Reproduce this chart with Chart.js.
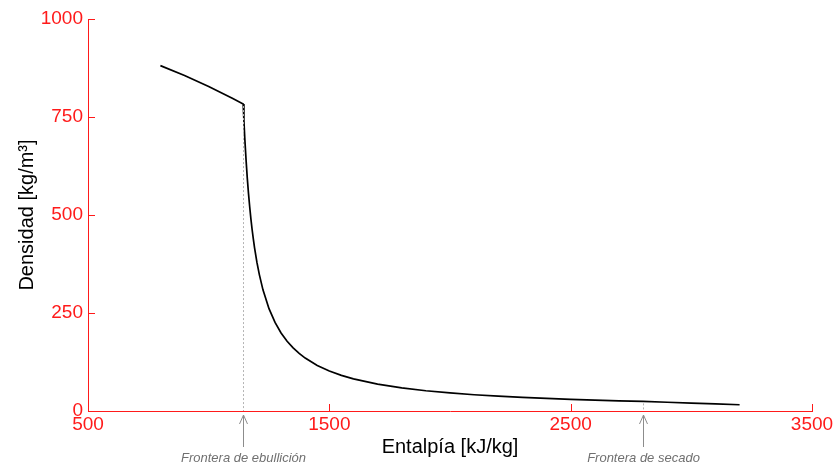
<!DOCTYPE html>
<html>
<head>
<meta charset="utf-8">
<script src="https://cdn.jsdelivr.net/npm/chart.js@4/dist/chart.umd.min.js"></script>
<style>
  html, body { margin: 0; padding: 0; background: #fff; }
  #grafica { display: block; }
</style>
</head>
<body>
<canvas id="grafica" width="839" height="466"></canvas>
<script>
// Densidad del agua frente a la entalpía (líquido, mezcla y vapor)
const entalpia = [800, 900, 1000, 1100, 1143, 1146, 1150, 1155, 1160, 1165,
                  1170, 1175, 1180, 1185, 1190, 1200, 1210, 1225, 1250, 1275,
                  1300, 1325, 1350, 1375, 1400, 1450, 1500, 1550, 1600, 1700,
                  1800, 1900, 2000, 2100, 2200, 2300, 2400, 2500, 2600, 2700,
                  2800, 2900, 3000, 3100, 3200]
const densidad = [881, 856, 828, 797, 783, 741, 692, 640, 594, 555,
                  521, 490, 463, 439, 417, 379, 348, 309, 261, 226,
                  199, 178, 161, 147, 135, 116, 102, 91, 82, 68.6,
                  59, 51.7, 46, 41.5, 37.8, 34.6, 32, 29.7, 27.8, 26,
                  24.5, 22.3, 20.2, 18, 16]

const ticksX = [500, 1500, 2500, 3500]
const ticksY = [0, 250, 500, 750, 1000]

// Fronteras marcadas bajo el eje x
const fronteraNombres = ['Frontera de ebullición', 'Frontera de secado']
const fronteraEntalpia = [1143, 2800]
const fronteraDensidad = [783, 24.5]

const rojo = '#ff1a1a'
Chart.defaults.font.family = "'Liberation Sans', Arial, sans-serif"

const puntos = entalpia.map((h, i) => ({ x: h, y: densidad[i] }))

// marcas de graduación hacia dentro, líneas punteadas y flechas
const anotaciones = {
    id: 'anotaciones',
    afterDraw(chart) {
        const ctx = chart.ctx
        const sx = chart.scales.x
        const sy = chart.scales.y
        const base = sy.getPixelForValue(0)
        const izq = sx.getPixelForValue(500)

        ctx.save()
        ctx.strokeStyle = rojo
        ctx.lineWidth = 1
        ctx.beginPath()
        ticksX.slice(1).forEach(v => {
            const px = Math.round(sx.getPixelForValue(v)) + 0.5
            ctx.moveTo(px, base)
            ctx.lineTo(px, base - 7)
        })
        ticksY.slice(1).forEach(v => {
            const py = Math.round(sy.getPixelForValue(v)) + 0.5
            ctx.moveTo(izq, py)
            ctx.lineTo(izq + 7, py)
        })
        ctx.stroke()

        fronteraEntalpia.forEach((h, i) => {
            const px = Math.round(sx.getPixelForValue(h)) + 0.5
            const py = sy.getPixelForValue(fronteraDensidad[i])

            // línea punteada desde la curva hasta el eje
            ctx.strokeStyle = '#b4b4b4'
            ctx.setLineDash([2, 2])
            ctx.beginPath()
            ctx.moveTo(px, py + 2)
            ctx.lineTo(px, base)
            ctx.stroke()
            ctx.setLineDash([])

            // flecha
            const punta = base + 4
            ctx.strokeStyle = '#8c8c8c'
            ctx.beginPath()
            ctx.moveTo(px, punta)
            ctx.lineTo(px, punta + 32)
            ctx.moveTo(px - 4, punta + 9)
            ctx.lineTo(px, punta)
            ctx.lineTo(px + 4, punta + 9)
            ctx.stroke()

            ctx.fillStyle = '#707070'
            ctx.font = "italic 13px 'Liberation Sans', Arial, sans-serif"
            ctx.textAlign = 'center'
            ctx.textBaseline = 'middle'
            ctx.fillText(fronteraNombres[i], px, punta + 43)
        })
        ctx.restore()
    }
}

new Chart(document.getElementById('grafica'), {
    type: 'line',
    data: {
        datasets: [{
            data: puntos,
            borderColor: '#000',
            borderWidth: 1.7,
            pointRadius: 0,
            tension: 0,
            fill: false
        }]
    },
    options: {
        responsive: false,
        animation: false,
        devicePixelRatio: 1,
        layout: { padding: { left: 0, top: 19, right: 27, bottom: 0 } },
        plugins: { legend: { display: false }, tooltip: { enabled: false } },
        scales: {
            x: {
                type: 'linear',
                min: 500,
                max: 3500,
                afterFit: s => { s.height = 55 },
                afterBuildTicks: s => { s.ticks = ticksX.map(v => ({ value: v })) },
                grid: { display: false, drawTicks: false },
                border: { display: true, color: rojo, width: 1 },
                ticks: { color: rojo, font: { size: 19 }, padding: 2, maxRotation: 0,
                         callback: v => String(v) },
                title: {
                    display: true,
                    text: 'Entalpía [kJ/kg]',
                    color: '#000',
                    font: { size: 20 },
                    padding: { top: 0, bottom: 7 }
                }
            },
            y: {
                type: 'linear',
                min: 0,
                max: 1000,
                afterFit: s => { s.width = 88 },
                afterBuildTicks: s => { s.ticks = ticksY.map(v => ({ value: v })) },
                grid: { display: false, drawTicks: false },
                border: { display: true, color: rojo, width: 1 },
                ticks: { color: rojo, font: { size: 19 }, padding: 5,
                         callback: v => String(v) },
                title: {
                    display: true,
                    text: 'Densidad [kg/m³]',
                    color: '#000',
                    font: { size: 20 },
                    padding: { top: 15, bottom: 0 }
                }
            }
        }
    },
    plugins: [anotaciones]
})
</script>
</body>
</html>
